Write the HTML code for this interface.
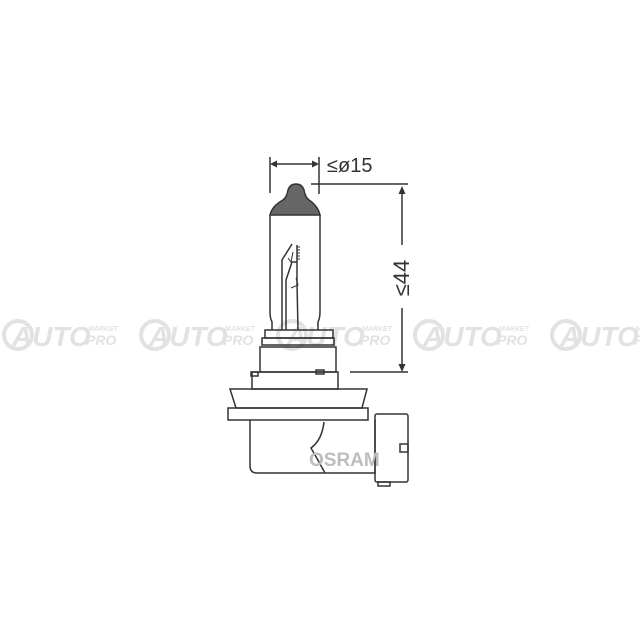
<!DOCTYPE html>
<html><head><style>html,body{margin:0;padding:0;background:#fff;}svg{display:block}</style></head>
<body>
<svg width="640" height="640" viewBox="0 0 640 640" xmlns="http://www.w3.org/2000/svg" font-family="Liberation Sans, sans-serif">
<!-- watermarks -->
<g fill="#e2e2e2" stroke="none" font-weight="bold" font-style="italic">
  <g transform="translate(0,0)">
    <circle cx="18" cy="335" r="14" fill="none" stroke="#e2e2e2" stroke-width="4"/>
    <text x="12" y="346" font-size="28">AUTO</text>
    <text x="88" y="331" font-size="7">MARKET</text>
    <text x="86" y="345" font-size="14">PRO</text>
  </g>
  <g transform="translate(137,0)">
    <circle cx="18" cy="335" r="14" fill="none" stroke="#e2e2e2" stroke-width="4"/>
    <text x="12" y="346" font-size="28">AUTO</text>
    <text x="88" y="331" font-size="7">MARKET</text>
    <text x="86" y="345" font-size="14">PRO</text>
  </g>
  <g transform="translate(274,0)">
    <circle cx="18" cy="335" r="14" fill="none" stroke="#e2e2e2" stroke-width="4"/>
    <text x="12" y="346" font-size="28">AUTO</text>
    <text x="88" y="331" font-size="7">MARKET</text>
    <text x="86" y="345" font-size="14">PRO</text>
  </g>
  <g transform="translate(411,0)">
    <circle cx="18" cy="335" r="14" fill="none" stroke="#e2e2e2" stroke-width="4"/>
    <text x="12" y="346" font-size="28">AUTO</text>
    <text x="88" y="331" font-size="7">MARKET</text>
    <text x="86" y="345" font-size="14">PRO</text>
  </g>
  <g transform="translate(548,0)">
    <circle cx="18" cy="335" r="14" fill="none" stroke="#e2e2e2" stroke-width="4"/>
    <text x="12" y="346" font-size="28">AUTO</text>
    <text x="88" y="331" font-size="7">MARKET</text>
    <text x="86" y="345" font-size="14">PRO</text>
  </g>
</g>
<g stroke="#333" stroke-width="1.5" fill="none">
  <line x1="270" y1="157" x2="270" y2="193"/>
  <line x1="319" y1="157" x2="319" y2="194"/>
  <line x1="274" y1="164" x2="315" y2="164"/>
  <line x1="311" y1="184" x2="408" y2="184"/>
  <line x1="402" y1="190" x2="402" y2="245"/>
  <line x1="402" y1="308" x2="402" y2="366"/>
  <line x1="350" y1="372" x2="408" y2="372"/>
  <path d="M270,215 L270,312 Q270,318 272,322 L272,330 M320,215 L320,312 Q320,318 318,322 L318,330" />
  <rect x="265" y="330" width="68" height="8"/>
  <rect x="262" y="338" width="72" height="7"/>
  <rect x="260" y="347" width="76" height="25"/>
  <rect x="252" y="372" width="86" height="17"/>
  <rect x="251" y="372" width="7" height="4"/>
  <rect x="316" y="370" width="8" height="4"/>
  <path d="M230,389 L367,389 L362,408 L236,408 Z"/>
  <rect x="228" y="408" width="140" height="12"/>
  <path d="M250,420 L250,466 Q250,473 257,473 L375,473 L375,420"/>
  <rect x="375" y="414" width="33" height="68" rx="2"/>
  <rect x="400" y="444" width="8" height="8"/>
  <rect x="378" y="482" width="12" height="4"/>
  <path d="M324,422 Q322,440 311,448 Q318,460 325,473"/>
  <path d="M282,330 L282,260 L292,244 M286,330 L286,280 L292,262 L297,262 L297,245 M297,262 L297,283 L298,330"/>
  <path d="M293,252 L291,262 L288,258" stroke-width="1"/>
  <path d="M297,247 h3 M297,250 h3 M297,253 h3 M297,256 h3 M297,259 h3" stroke-width="1"/>
  <path d="M296,278 L298,285 L291,288" stroke-width="1"/>
</g>
<g fill="#333">
  <path d="M270,164 l7,-3.5 v7 z"/>
  <path d="M319,164 l-7,-3.5 v7 z"/>
  <path d="M402,186 l-3.5,8 h7 z"/>
  <path d="M402,372 l-3.5,-8 h7 z"/>
</g>
<path d="M270,215 Q272,206 283,200 Q287,197 288,190 Q290,184 296,184 Q302,184 304,190 Q305,197 309,200 Q318,206 320,215 Z" fill="#666" stroke="#333" stroke-width="1.5"/>
<text x="327" y="172" font-size="20" fill="#333">≤ø15</text>
<text transform="translate(409,278) rotate(-90)" text-anchor="middle" font-size="22" fill="#333">≤44</text>
<text x="309" y="466" font-size="19" font-weight="bold" fill="#bdbdbd">OSRAM</text>
</svg>
</body></html>
